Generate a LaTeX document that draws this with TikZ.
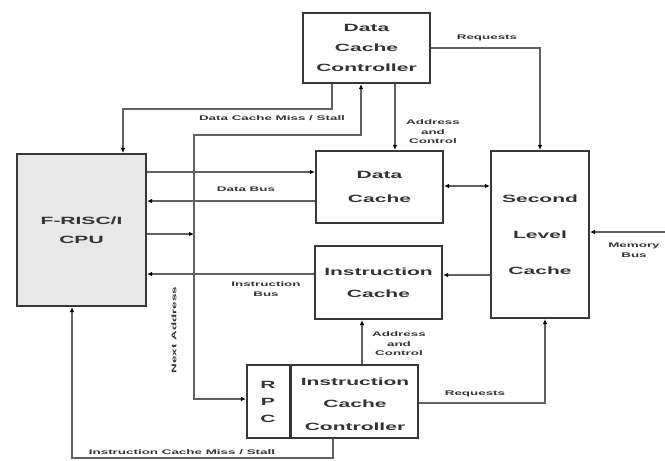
\documentclass[tikz,border=0pt]{standalone}
\usepackage{fontspec}
\setmainfont{Liberation Sans}
\newfontfamily\bxf[FakeStretch=2.0]{Liberation Sans Bold}
\usetikzlibrary{arrows.meta,calc}
\tikzset{
  box/.style={draw=black!78, line width=2.2pt, inner sep=0pt, align=center, text=black!80,
              font=\bxf\fontsize{10.5}{22}\selectfont},
  conn/.style={draw=black!62, line width=1.4pt},
  arr/.style={conn, -{Latex[length=5pt,width=4.5pt,color=black]}},
  arrb/.style={conn, {Latex[length=5pt,width=4.5pt,color=black]}-{Latex[length=5pt,width=4.5pt,color=black]}},
  lab/.style={font=\bxf\fontsize{6.7}{9.5}\selectfont, text=black!80, align=center, inner sep=0pt},
  boxtxt/.style={font=\bxf\fontsize{10.5}{22}\selectfont, text=black!80, align=center, inner sep=0pt},
}
\begin{document}
\begin{tikzpicture}[x=1pt,y=-1pt]
\useasboundingbox (0,0) rectangle (665,461);
% boxes
\node[box, minimum width=127pt, minimum height=70pt, font=\bxf\fontsize{10.5}{20}\selectfont] (dcc) at (366.5,48) {Data\\Cache\\Controller};
\node[box, fill=black!9, minimum width=129pt, minimum height=152pt, font=\bxf\fontsize{10.5}{19}\selectfont] (cpu) at (81.5,230) {F-RISC/I\\CPU};
\node[box, minimum width=127pt, minimum height=72pt, font=\bxf\fontsize{10.5}{24}\selectfont] (dc) at (379.5,187) {Data\\Cache};
\node[box, minimum width=98pt, minimum height=167pt, font=\bxf\fontsize{10.5}{36}\selectfont] (l2) at (540,234.5) {Second\\Level\\Cache};
\node[box, minimum width=127pt, minimum height=73pt] (ic) at (378.5,282.5) {Instruction\\Cache};
\node[box, minimum width=171pt, minimum height=73pt] (icc) at (332.5,401.5) {};
\node[boxtxt, font=\bxf\fontsize{10.5}{22.5}\selectfont] (icct) at (355,404) {Instruction\\Cache\\Controller};
\node[boxtxt, font=\bxf\fontsize{10.5}{17}\selectfont] (rpct) at (268,402) {R\\P\\C};
\draw[draw=black!78, line width=3pt] (icc.north -| 290,0) -- (icc.south -| 290,0);
% coordinates
\coordinate (m1) at (332,109);
\coordinate (m2) at (123,109);
\coordinate (b1) at (194,135);
\coordinate (b2) at (194,399);
\coordinate (b3) at (361,135);
\coordinate (mem) at (665,232);
\coordinate (r1) at (545,403);
\coordinate (s1) at (333,458);
\coordinate (s2) at (72,458);
% connectors
\draw[arr] (dcc.east) -| (l2.north);
\node[lab] (lreq1) at (487,38) {Requests};
\draw[arr] (m1 |- dcc.south) -- (m1) -- (m2) -- (m2 |- cpu.north);
\node[lab] (ldmiss) at (272,118) {Data Cache Miss / Stall};
\draw[arr] (cpu.east |- 0,234) -- (b1 |- 0,234);
\draw[arr] (b2) -- (b1) -- (b3) -- (b3 |- dcc.south);
\draw[arr] (b1) -- (b2) -- (icc.west |- b2);
\node[lab, rotate=90] (lnext) at (174,330) {Next Address};
\draw[arr] (cpu.east |- 0,172) -- (dc.west |- 0,172);
\draw[arr] (dc.west |- 0,201) -- (cpu.east |- 0,201);
\node[lab] (ldbus) at (246,189) {Data Bus};
\draw[arr] (ic.west |- 0,274) -- (cpu.east |- 0,274);
\node[lab] (libus) at (266,289) {Instruction\\Bus};
\draw[arr] (dcc.south -| 395,0) -- (dc.north -| 395,0);
\node[lab] (lac1) at (433,132) {Address\\and\\Control};
\draw[arrb] (dc.east |- 0,186) -- (l2.west |- 0,186);
\draw[arr] (l2.west |- 0,275) -- (ic.east |- 0,275);
\draw[arr] (mem) -- (l2.east |- mem);
\node[lab] (lmem) at (634,250) {Memory\\Bus};
\draw[arr] (icc.east |- r1) -- (r1) -- (r1 |- l2.south);
\node[lab] (lreq2) at (475,394) {Requests};
\draw[arr] (icc.north -| 362,0) -- (ic.south -| 362,0);
\node[lab] (lac2) at (399,344) {Address\\and\\Control};
\draw[arr] (s1 |- icc.south) -- (s1) -- (s2) -- (s2 |- cpu.south);
\node[lab] (limiss) at (182,452) {Instruction Cache Miss / Stall};
\end{tikzpicture}
\end{document}
